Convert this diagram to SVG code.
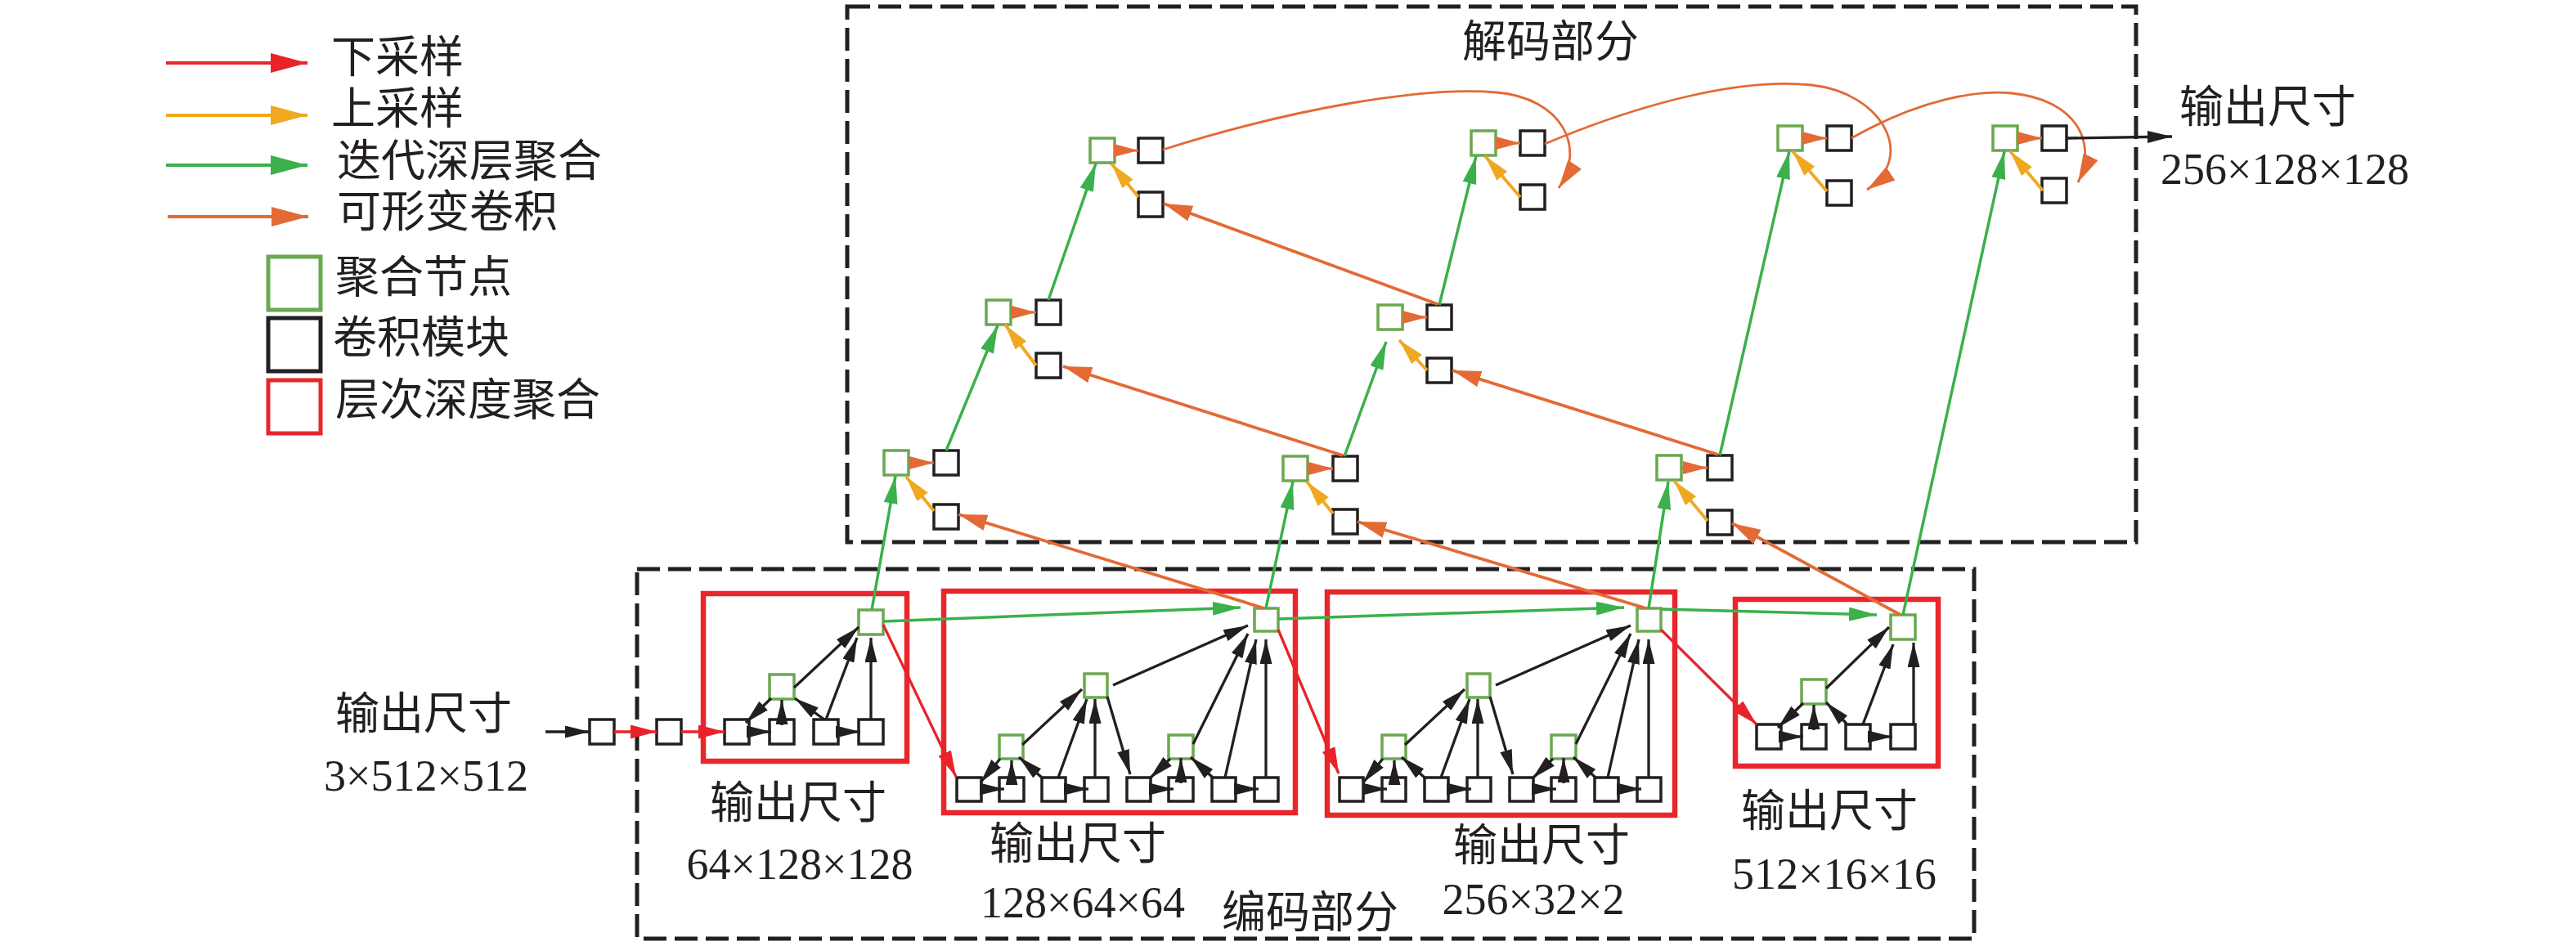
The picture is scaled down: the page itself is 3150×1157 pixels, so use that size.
<svg xmlns="http://www.w3.org/2000/svg" width="3150" height="1157" viewBox="0 0 3150 1157">
<defs>
<style>
.b{fill:#fff;stroke:#231F20;stroke-width:3.5}
.g{fill:#fff;stroke:#6BA84F;stroke-width:3.5}
.rb{fill:none;stroke:#E8262C;stroke-width:6.5}
.dash{fill:none;stroke:#231F20;stroke-width:5;stroke-dasharray:28 10}
.cn{font-family:"Liberation Sans","Noto Sans CJK SC",sans-serif;font-size:54px;fill:#231F20}
.nm{font-family:"Liberation Serif",serif;font-size:54px;fill:#231F20;text-anchor:middle}
.lk{stroke:#231F20;stroke-width:3.3;fill:none;marker-end:url(#mk-blk)}
.lr{stroke:#E8232A;stroke-width:3.3;fill:none;marker-end:url(#mk-red)}
.lg{stroke:#3BB04B;stroke-width:3.5;fill:none;marker-end:url(#mk-grn)}
.lo{stroke:#E36A35;stroke-width:3.8;fill:none;marker-end:url(#mk-org)}
.la{stroke:#E36A35;stroke-width:2.8;fill:none;marker-end:url(#mk-org)}
.ls{stroke:#E36A35;stroke-width:3;fill:none;marker-end:url(#mk-orgs)}
.ly{stroke:#F0A820;stroke-width:3.8;fill:none;marker-end:url(#mk-yel)}
</style>
<marker id="mk-blk" markerUnits="userSpaceOnUse" markerWidth="30" markerHeight="15" refX="30" refY="7.5" orient="auto"><path d="M0,0 L30,7.5 L0,15 z" fill="#231F20"/></marker>
<marker id="mk-red" markerUnits="userSpaceOnUse" markerWidth="32" markerHeight="17" refX="32" refY="8.5" orient="auto"><path d="M0,0 L32,8.5 L0,17 z" fill="#E8232A"/></marker>
<marker id="mk-grn" markerUnits="userSpaceOnUse" markerWidth="34" markerHeight="17" refX="34" refY="8.5" orient="auto"><path d="M0,0 L34,8.5 L0,17 z" fill="#3BB04B"/></marker>
<marker id="mk-org" markerUnits="userSpaceOnUse" markerWidth="35" markerHeight="20" refX="35" refY="10" orient="auto"><path d="M0,0 L35,10 L0,20 z" fill="#E36A35"/></marker>
<marker id="mk-orgs" markerUnits="userSpaceOnUse" markerWidth="30" markerHeight="16" refX="30" refY="8" orient="auto"><path d="M0,0 L30,8 L0,16 z" fill="#E36A35"/></marker>
<marker id="mk-yel" markerUnits="userSpaceOnUse" markerWidth="32" markerHeight="17" refX="32" refY="8.5" orient="auto"><path d="M0,0 L32,8.5 L0,17 z" fill="#F0A820"/></marker>
<marker id="lg-red" markerUnits="userSpaceOnUse" markerWidth="45" markerHeight="24" refX="45" refY="12" orient="auto"><path d="M0,0 L45,12 L0,24 z" fill="#E8232A"/></marker>
<marker id="lg-yel" markerUnits="userSpaceOnUse" markerWidth="45" markerHeight="24" refX="45" refY="12" orient="auto"><path d="M0,0 L45,12 L0,24 z" fill="#F0A820"/></marker>
<marker id="lg-grn" markerUnits="userSpaceOnUse" markerWidth="45" markerHeight="24" refX="45" refY="12" orient="auto"><path d="M0,0 L45,12 L0,24 z" fill="#3BB04B"/></marker>
<marker id="lg-org" markerUnits="userSpaceOnUse" markerWidth="45" markerHeight="24" refX="45" refY="12" orient="auto"><path d="M0,0 L45,12 L0,24 z" fill="#E36A35"/></marker>
</defs>
<rect width="3150" height="1157" fill="#fff"/>

<g id="legend">
<line x1="203" y1="77" x2="376" y2="77" stroke="#E8232A" stroke-width="4" marker-end="url(#lg-red)"/>
<line x1="203" y1="141" x2="376" y2="141" stroke="#F0A820" stroke-width="4" marker-end="url(#lg-yel)"/>
<line x1="203" y1="202" x2="376" y2="202" stroke="#3BB04B" stroke-width="4" marker-end="url(#lg-grn)"/>
<line x1="205" y1="265" x2="377" y2="265" stroke="#E36A35" stroke-width="4" marker-end="url(#lg-org)"/>
<text class="cn" x="405" y="89">下采样</text>
<text class="cn" x="405" y="152">上采样</text>
<text class="cn" x="412" y="216">迭代深层聚合</text>
<text class="cn" x="412" y="278">可形变卷积</text>
<rect x="328" y="314" width="64" height="65" fill="#fff" stroke="#6BA84F" stroke-width="5"/>
<rect x="328" y="389" width="64" height="65" fill="#fff" stroke="#231F20" stroke-width="5"/>
<rect x="328" y="465" width="64" height="65" fill="#fff" stroke="#E8262C" stroke-width="5"/>
<text class="cn" x="410" y="358">聚合节点</text>
<text class="cn" x="407" y="432">卷积模块</text>
<text class="cn" x="410" y="508">层次深度聚合</text>
</g>

<g id="decoder-frame">
<rect class="dash" x="1036" y="8" width="1576" height="655"/>
<text class="cn" x="1788" y="70">解码部分</text>
</g>
<g id="encoder-frame">
<rect class="dash" x="779" y="696" width="1635" height="452"/>
<text class="cn" x="1494" y="1135">编码部分</text>
</g>

<g id="input">
<text class="cn" x="518" y="892" text-anchor="middle">输出尺寸</text>
<text class="nm" x="521" y="967">3×512×512</text>
<rect class="b" x="721" y="880" width="30" height="30"/>
<rect class="b" x="803" y="880" width="30" height="30"/>
</g>

<g id="stage1">
<rect class="rb" x="860" y="726" width="249" height="205"/>
<rect class="b" x="886" y="880" width="30" height="30"/>
<rect class="b" x="941" y="880" width="30" height="30"/>
<rect class="b" x="995" y="880" width="30" height="30"/>
<rect class="b" x="1050" y="880" width="30" height="30"/>
<rect class="g" x="941" y="825" width="30" height="30"/>
<rect class="g" x="1050" y="746" width="30" height="30"/>
<text class="cn" x="976" y="1001" text-anchor="middle">输出尺寸</text>
<text class="nm" x="978" y="1075">64×128×128</text>
</g>

<g id="stage2">
<rect class="rb" x="1154" y="723" width="430" height="271"/>
<rect class="b" x="1170" y="951" width="30" height="29"/>
<rect class="b" x="1222" y="951" width="30" height="29"/>
<rect class="b" x="1274" y="951" width="29" height="29"/>
<rect class="b" x="1326" y="951" width="29" height="29"/>
<rect class="b" x="1378" y="951" width="29" height="29"/>
<rect class="b" x="1429" y="951" width="30" height="29"/>
<rect class="b" x="1482" y="951" width="29" height="29"/>
<rect class="b" x="1534" y="951" width="29" height="29"/>
<rect class="g" x="1222" y="899" width="29" height="29"/>
<rect class="g" x="1429" y="899" width="30" height="29"/>
<rect class="g" x="1326" y="824" width="28" height="29"/>
<rect class="g" x="1534" y="744" width="29" height="28"/>
<text class="cn" x="1318" y="1051" text-anchor="middle">输出尺寸</text>
<text class="nm" x="1324" y="1122">128×64×64</text>
</g>

<g id="stage3">
<rect class="rb" x="1623" y="724" width="425" height="273"/>
<rect class="b" x="1638" y="951" width="29" height="29"/>
<rect class="b" x="1690" y="951" width="29" height="29"/>
<rect class="b" x="1742" y="951" width="29" height="29"/>
<rect class="b" x="1794" y="951" width="29" height="29"/>
<rect class="b" x="1846" y="951" width="29" height="29"/>
<rect class="b" x="1897" y="951" width="30" height="29"/>
<rect class="b" x="1950" y="951" width="29" height="29"/>
<rect class="b" x="2002" y="951" width="29" height="29"/>
<rect class="g" x="1690" y="899" width="29" height="29"/>
<rect class="g" x="1897" y="899" width="30" height="29"/>
<rect class="g" x="1794" y="824" width="28" height="29"/>
<rect class="g" x="2002" y="744" width="29" height="28"/>
<text class="cn" x="1885" y="1053" text-anchor="middle">输出尺寸</text>
<text class="nm" x="1875" y="1118">256×32×2</text>
</g>

<g id="stage4">
<rect class="rb" x="2122" y="733" width="248" height="204"/>
<rect class="b" x="2148" y="886" width="30" height="30"/>
<rect class="b" x="2203" y="886" width="30" height="30"/>
<rect class="b" x="2257" y="886" width="30" height="30"/>
<rect class="b" x="2312" y="886" width="30" height="30"/>
<rect class="g" x="2203" y="831" width="30" height="30"/>
<rect class="g" x="2312" y="752" width="30" height="30"/>
<text class="cn" x="2237" y="1011" text-anchor="middle">输出尺寸</text>
<text class="nm" x="2243" y="1087">512×16×16</text>
</g>

<g id="dec-col1">
<rect class="g" x="1081" y="551" width="30" height="30"/>
<rect class="b" x="1142" y="551" width="30" height="30"/>
<rect class="b" x="1142" y="617" width="30" height="30"/>
<rect class="g" x="1206" y="367" width="30" height="30"/>
<rect class="b" x="1267" y="367" width="30" height="30"/>
<rect class="b" x="1267" y="432" width="30" height="30"/>
<rect class="g" x="1333" y="169" width="30" height="30"/>
<rect class="b" x="1392" y="169" width="30" height="30"/>
<rect class="b" x="1392" y="235" width="30" height="30"/>
</g>
<g id="dec-col2">
<rect class="g" x="1569" y="558" width="30" height="30"/>
<rect class="b" x="1630" y="558" width="30" height="30"/>
<rect class="b" x="1630" y="623" width="30" height="30"/>
<rect class="g" x="1685" y="373" width="30" height="30"/>
<rect class="b" x="1745" y="373" width="30" height="30"/>
<rect class="b" x="1745" y="438" width="30" height="30"/>
<rect class="g" x="1799" y="160" width="30" height="30"/>
<rect class="b" x="1859" y="160" width="30" height="30"/>
<rect class="b" x="1859" y="226" width="30" height="30"/>
</g>
<g id="dec-col3">
<rect class="g" x="2026" y="557" width="30" height="30"/>
<rect class="b" x="2088" y="557" width="30" height="30"/>
<rect class="b" x="2088" y="624" width="30" height="30"/>
<rect class="g" x="2174" y="154" width="30" height="30"/>
<rect class="b" x="2234" y="154" width="30" height="30"/>
<rect class="b" x="2234" y="221" width="30" height="30"/>
</g>
<g id="dec-col4">
<rect class="g" x="2437" y="154" width="30" height="30"/>
<rect class="b" x="2497" y="154" width="30" height="30"/>
<rect class="b" x="2497" y="218" width="30" height="30"/>
</g>
<g id="output">
<text class="cn" x="2773" y="150" text-anchor="middle">输出尺寸</text>
<text class="nm" x="2794" y="225">256×128×128</text>
</g>

<g id="connectors">
<!-- input -->
<line class="lk" x1="667" y1="895" x2="721" y2="895"/>
<line class="lr" x1="751" y1="895" x2="803" y2="895"/>
<line class="lr" x1="833" y1="895" x2="886" y2="895"/>
<!-- stage1 -->
<line class="lk" x1="916" y1="895" x2="943" y2="895"/>
<line class="lk" x1="1025" y1="895" x2="1052" y2="895"/>
<line class="lk" x1="943" y1="854" x2="912" y2="884"/>
<line class="lk" x1="956" y1="887" x2="956" y2="856"/>
<line class="lk" x1="1008" y1="880" x2="972" y2="854"/>
<line class="lk" x1="971" y1="841" x2="1050" y2="767"/>
<line class="lk" x1="1010" y1="880" x2="1048" y2="780"/>
<line class="lk" x1="1065" y1="880" x2="1065" y2="780"/>
<!-- stage2 -->
<line class="lk" x1="1200" y1="965" x2="1228" y2="965"/>
<line class="lk" x1="1303" y1="965" x2="1331" y2="965"/>
<line class="lk" x1="1407" y1="965" x2="1435" y2="965"/>
<line class="lk" x1="1511" y1="965" x2="1539" y2="965"/>
<line class="lk" x1="1223" y1="928" x2="1199" y2="957"/>
<line class="lk" x1="1237" y1="960" x2="1237" y2="930"/>
<line class="lk" x1="1274" y1="951" x2="1246" y2="926"/>
<line class="lk" x1="1250" y1="911" x2="1323" y2="843"/>
<line class="lk" x1="1294" y1="951" x2="1329" y2="855"/>
<line class="lk" x1="1339" y1="951" x2="1339" y2="855"/>
<line class="lk" x1="1354" y1="852" x2="1382" y2="947"/>
<line class="lk" x1="1431" y1="928" x2="1406" y2="952"/>
<line class="lk" x1="1444" y1="958" x2="1444" y2="927"/>
<line class="lk" x1="1483" y1="951" x2="1456" y2="926"/>
<line class="lk" x1="1459" y1="910" x2="1526" y2="775"/>
<line class="lk" x1="1498" y1="951" x2="1536" y2="782"/>
<line class="lk" x1="1548" y1="951" x2="1548" y2="782"/>
<line class="lk" x1="1361" y1="838" x2="1526" y2="765"/>
<!-- stage3 -->
<line class="lk" x1="1668" y1="965" x2="1696" y2="965"/>
<line class="lk" x1="1771" y1="965" x2="1799" y2="965"/>
<line class="lk" x1="1875" y1="965" x2="1903" y2="965"/>
<line class="lk" x1="1979" y1="965" x2="2007" y2="965"/>
<line class="lk" x1="1691" y1="928" x2="1667" y2="957"/>
<line class="lk" x1="1705" y1="960" x2="1705" y2="930"/>
<line class="lk" x1="1742" y1="951" x2="1714" y2="926"/>
<line class="lk" x1="1718" y1="911" x2="1791" y2="843"/>
<line class="lk" x1="1762" y1="951" x2="1797" y2="855"/>
<line class="lk" x1="1807" y1="951" x2="1807" y2="855"/>
<line class="lk" x1="1822" y1="852" x2="1850" y2="947"/>
<line class="lk" x1="1899" y1="928" x2="1874" y2="952"/>
<line class="lk" x1="1912" y1="958" x2="1912" y2="927"/>
<line class="lk" x1="1951" y1="951" x2="1924" y2="926"/>
<line class="lk" x1="1927" y1="910" x2="1994" y2="775"/>
<line class="lk" x1="1966" y1="951" x2="2004" y2="782"/>
<line class="lk" x1="2016" y1="951" x2="2016" y2="782"/>
<line class="lk" x1="1829" y1="838" x2="1994" y2="765"/>
<!-- stage4 -->
<line class="lk" x1="2178" y1="901" x2="2205" y2="901"/>
<line class="lk" x1="2287" y1="901" x2="2314" y2="901"/>
<line class="lk" x1="2205" y1="860" x2="2174" y2="890"/>
<line class="lk" x1="2218" y1="893" x2="2218" y2="862"/>
<line class="lk" x1="2258" y1="885" x2="2233" y2="859"/>
<line class="lk" x1="2233" y1="842" x2="2310" y2="767"/>
<line class="lk" x1="2278" y1="886" x2="2315" y2="788"/>
<line class="lk" x1="2340" y1="886" x2="2340" y2="786"/>
<!-- downsampling -->
<line class="lr" x1="1080" y1="764" x2="1169" y2="950"/>
<line class="lr" x1="1563" y1="770" x2="1637" y2="946"/>
<line class="lr" x1="2031" y1="770" x2="2148" y2="886"/>
<!-- iterative aggregation -->
<line class="lg" x1="1080" y1="760" x2="1517" y2="743"/>
<line class="lg" x1="1563" y1="757" x2="1986" y2="743"/>
<line class="lg" x1="2031" y1="745" x2="2295" y2="752"/>
<line class="lg" x1="1066" y1="746" x2="1095" y2="582"/>
<line class="lg" x1="1548" y1="744" x2="1581" y2="589"/>
<line class="lg" x1="2016" y1="744" x2="2040" y2="589"/>
<line class="lg" x1="2327" y1="752" x2="2451" y2="185"/>
<line class="lg" x1="1157" y1="551" x2="1220" y2="398"/>
<line class="lg" x1="1282" y1="367" x2="1340" y2="200"/>
<line class="lg" x1="1644" y1="558" x2="1695" y2="418"/>
<line class="lg" x1="1760" y1="373" x2="1805" y2="191"/>
<line class="lg" x1="2103" y1="557" x2="2188" y2="185"/>
<!-- deformable conv -->
<line class="lo" x1="1546" y1="744" x2="1172" y2="629"/>
<line class="lo" x1="2013" y1="744" x2="1660" y2="638"/>
<line class="lo" x1="2324" y1="752" x2="2118" y2="640"/>
<line class="lo" x1="1642" y1="557" x2="1300" y2="448"/>
<line class="lo" x1="1758" y1="372" x2="1423" y2="249"/>
<line class="lo" x1="2101" y1="556" x2="1776" y2="453"/>
<path class="la" d="M1422,183 C1580,133 1740,105 1830,113 C1910,120 1940,180 1906,230"/>
<path class="la" d="M1889,176 C2010,125 2130,95 2215,104 C2300,113 2345,190 2283,232"/>
<path class="la" d="M2264,169 C2350,120 2420,110 2460,114 C2540,122 2565,175 2541,223"/>
<line class="ls" x1="1111" y1="566" x2="1142" y2="566"/>
<line class="ls" x1="1236" y1="382" x2="1267" y2="382"/>
<line class="ls" x1="1363" y1="184" x2="1392" y2="184"/>
<line class="ls" x1="1599" y1="573" x2="1630" y2="573"/>
<line class="ls" x1="1715" y1="388" x2="1745" y2="388"/>
<line class="ls" x1="1829" y1="175" x2="1859" y2="175"/>
<line class="ls" x1="2056" y1="572" x2="2088" y2="572"/>
<line class="ls" x1="2204" y1="169" x2="2234" y2="169"/>
<line class="ls" x1="2467" y1="169" x2="2497" y2="169"/>
<!-- upsampling -->
<line class="ly" x1="1142" y1="625" x2="1108" y2="583"/>
<line class="ly" x1="1267" y1="447" x2="1229" y2="397"/>
<line class="ly" x1="1392" y1="241" x2="1359" y2="200"/>
<line class="ly" x1="1630" y1="628" x2="1598" y2="589"/>
<line class="ly" x1="1745" y1="453" x2="1711" y2="416"/>
<line class="ly" x1="1859" y1="241" x2="1816" y2="191"/>
<line class="ly" x1="2088" y1="637" x2="2047" y2="588"/>
<line class="ly" x1="2234" y1="234" x2="2192" y2="185"/>
<line class="ly" x1="2498" y1="233" x2="2458" y2="185"/>
<!-- output -->
<line class="lk" x1="2527" y1="169" x2="2656" y2="167"/>
</g>
</svg>
